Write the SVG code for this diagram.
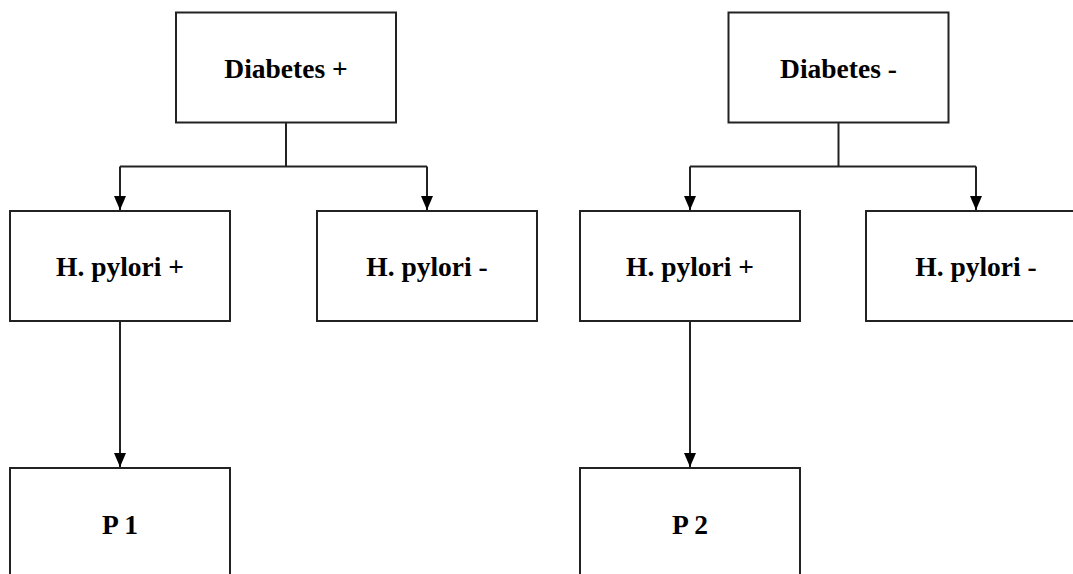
<svg xmlns="http://www.w3.org/2000/svg" width="1073" height="574" viewBox="0 0 1073 574">
<defs>
<style>
.box{fill:#fff;stroke:#222;stroke-width:2}
.lbl{font-family:"Liberation Serif","Times New Roman",serif;font-weight:bold;font-size:27.5px;fill:#000;text-anchor:middle}
.line{fill:none;stroke:#222;stroke-width:2}
</style>
<marker id="arr" markerUnits="userSpaceOnUse" markerWidth="14" markerHeight="13" refX="14" refY="6.5" orient="auto">
<path d="M0,0.5 L14,6.5 L0,12.5 z" fill="#000"/>
</marker>
</defs>
<rect width="1073" height="574" fill="#fff"/>
<g id="connectors">
<path class="line" d="M286,123 V166.5 M120,166.5 H427"/>
<path class="line" d="M120,166.5 V210" marker-end="url(#arr)"/>
<path class="line" d="M427,166.5 V210" marker-end="url(#arr)"/>
<path class="line" d="M838.5,123 V166.5 M690,166.5 H976"/>
<path class="line" d="M690,166.5 V210" marker-end="url(#arr)"/>
<path class="line" d="M976,166.5 V210" marker-end="url(#arr)"/>
<path class="line" d="M120,321 V467" marker-end="url(#arr)"/>
<path class="line" d="M690,321 V467" marker-end="url(#arr)"/>
</g>
<g id="diabetes-pos"><rect class="box" x="176" y="12.5" width="220" height="110"/><text class="lbl" x="286" y="77.5">Diabetes +</text></g>
<g id="diabetes-neg"><rect class="box" x="728.5" y="12.5" width="220" height="110"/><text class="lbl" x="838.5" y="77.5">Diabetes -</text></g>
<g id="hp-pos-1"><rect class="box" x="10" y="211" width="220" height="110"/><text class="lbl" x="120" y="276">H. pylori +</text></g>
<g id="hp-neg-1"><rect class="box" x="317" y="211" width="220" height="110"/><text class="lbl" x="427" y="276">H. pylori -</text></g>
<g id="hp-pos-2"><rect class="box" x="580" y="211" width="220" height="110"/><text class="lbl" x="690" y="276">H. pylori +</text></g>
<g id="hp-neg-2"><rect class="box" x="866" y="211" width="220" height="110"/><text class="lbl" x="976" y="276">H. pylori -</text></g>
<g id="p1"><rect class="box" x="10" y="468" width="220" height="110"/><text class="lbl" x="120" y="534">P 1</text></g>
<g id="p2"><rect class="box" x="580" y="468" width="220" height="110"/><text class="lbl" x="690" y="534">P 2</text></g>
</svg>
